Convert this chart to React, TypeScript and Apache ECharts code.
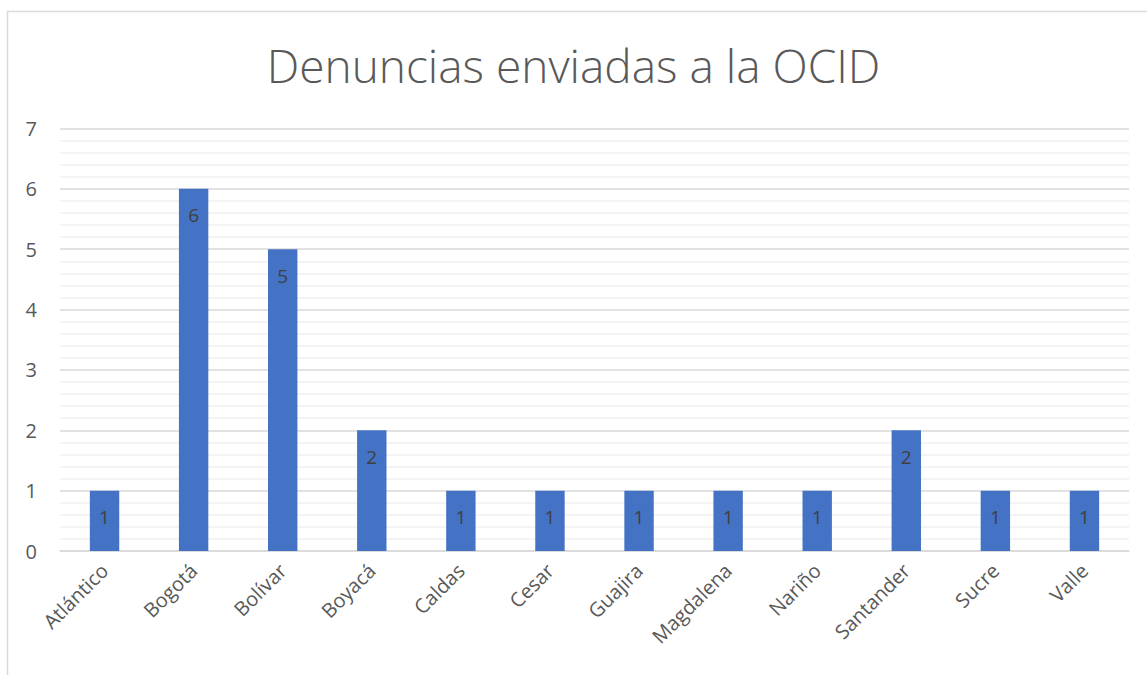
import React, { useEffect, useRef } from "react";
import * as echarts from "echarts";

const categories = ["Atlántico", "Bogotá", "Bolívar", "Boyacá", "Caldas", "Cesar", "Guajira", "Magdalena", "Nariño", "Santander", "Sucre", "Valle"];
const values = [1, 6, 5, 2, 1, 1, 1, 1, 1, 2, 1, 1];
const titleText = "Denuncias enviadas a la OCID";

export default function App() {
  const ref = useRef<HTMLDivElement>(null);
  useEffect(() => {
    const chart = echarts.init(ref.current!, null, { renderer: "svg" });
    chart.setOption({
      animation: false,
      backgroundColor: "#ffffff",
      title: {
        text: titleText,
        left: "center",
        top: 37,
        textStyle: { fontFamily: "Open Sans", fontSize: 46, fontWeight: 300, color: "#595959" },
      },
      graphic: [
        {
          type: "rect",
          shape: { x: 7.5, y: 11.5, width: 1150, height: 700 },
          style: { fill: "none", stroke: "#d9d9d9", lineWidth: 1.5 },
          silent: true,
        },
      ],
      grid: { left: 60, right: 18, top: 128.5, bottom: 124, containLabel: false },
      xAxis: {
        type: "category",
        data: categories,
        axisLine: { lineStyle: { color: "#d9d9d9", width: 1.5 } },
        axisTick: { show: false },
        axisLabel: {
          rotate: 45,
          interval: 0,
          fontFamily: "Open Sans",
          fontSize: 20,
          color: "#595959",
          margin: 16,
        },
      },
      yAxis: {
        type: "value",
        min: 0,
        max: 7,
        interval: 1,
        axisLine: { show: false },
        axisTick: { show: false },
        axisLabel: { fontFamily: "Open Sans", fontSize: 20, color: "#595959", margin: 23 },
        splitLine: { lineStyle: { color: "#d9d9d9", width: 1.5 } },
        minorTick: { show: false, splitNumber: 5 },
        minorSplitLine: { show: true, lineStyle: { color: "#f0f0f0", width: 1.5 } },
      },
      series: [
        {
          type: "bar",
          data: values,
          barWidth: "33%",
          itemStyle: { color: "#4472c4" },
          label: {
            show: true,
            position: "insideTop",
            distance: 17,
            fontFamily: "Open Sans",
            fontSize: 19,
            color: "#404040",
          },
        },
      ],
    });
    return () => chart.dispose();
  }, []);
  return (
    <div
      ref={ref}
      style={{ position: "fixed", left: 0, top: 0, width: 1147, height: 675 }}
    />
  );
}
